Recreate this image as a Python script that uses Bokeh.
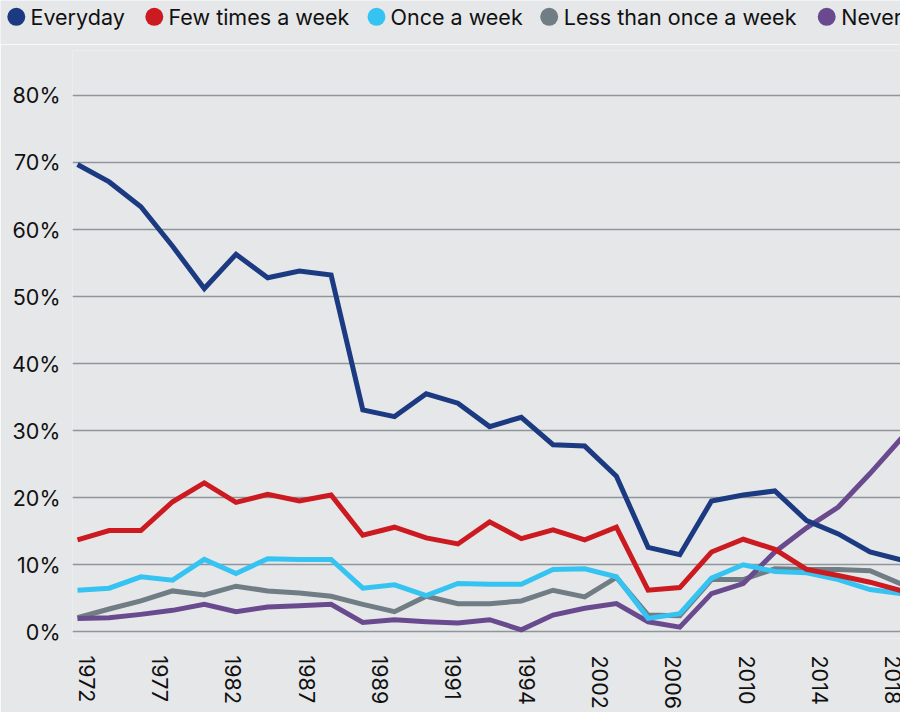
from bokeh.plotting import figure
from bokeh.models import Range1d, FixedTicker, CustomJSTickFormatter, ColumnDataSource
from bokeh.embed import file_html
from bokeh.resources import INLINE
from bokeh.core.properties import value

# ---------------- data (percent) ----------------
series_names = ["Everyday", "Few times a week", "Once a week",
                "Less than once a week", "Never"]
everyday = [69.7, 67.1, 63.4, 57.5, 51.2, 56.3, 52.8, 53.8, 53.2, 33.1, 32.1,
            35.5, 34.1, 30.6, 32.0, 27.9, 27.7, 23.2, 12.6, 11.5, 19.5, 20.4,
            21.0, 16.6, 14.6, 11.9, 10.7]
few_times = [13.7, 15.1, 15.1, 19.4, 22.2, 19.3, 20.5, 19.5, 20.4, 14.4, 15.6,
             14.0, 13.1, 16.4, 13.9, 15.2, 13.7, 15.6, 6.2, 6.6, 11.9, 13.8,
             12.3, 9.3, 8.4, 7.4, 6.1]
once_week = [6.2, 6.5, 8.2, 7.7, 10.8, 8.7, 10.9, 10.8, 10.8, 6.5, 7.0, 5.4,
             7.2, 7.1, 7.1, 9.3, 9.4, 8.2, 2.0, 2.7, 8.0, 10.0, 9.0, 8.8, 7.8,
             6.3, 5.7]
less_once = [2.1, 3.4, 4.6, 6.1, 5.5, 6.8, 6.1, 5.8, 5.3, 4.1, 3.0, 5.3, 4.2,
             4.2, 4.6, 6.2, 5.2, 8.1, 2.5, 2.4, 7.8, 7.8, 9.4, 9.3, 9.3, 9.1,
             7.1]
never = [2.0, 2.1, 2.6, 3.2, 4.1, 3.0, 3.7, 3.9, 4.1, 1.4, 1.8, 1.5, 1.3, 1.8,
         0.3, 2.5, 3.5, 4.2, 1.5, 0.7, 5.7, 7.2, 11.9, 15.5, 18.6, 23.6, 28.9]
year_labels = ["1972", "1977", "1982", "1987", "1989", "1991", "1994", "2002",
               "2006", "2010", "2014", "2018"]
y_ticks = [0, 10, 20, 30, 40, 50, 60, 70, 80]

# ---------------- styling ----------------
colors = {"Everyday": "#1b3a82", "Few times a week": "#cc1a21",
          "Once a week": "#35c4f2", "Less than once a week": "#717d85",
          "Never": "#6a4a8e"}
BG = "#e6e7e9"
GRID = "#8e959b"
TXT = "#111111"
FONT = "Inter"
FS = "21.5px"

W = 900
LEG_H = 44
MAIN_H = 712 - LEG_H

# ---------------- legend strip (own root, pixel coordinates) ----------------
leg = figure(width=W, height=LEG_H, x_range=Range1d(0, W), y_range=Range1d(LEG_H, 0),
             output_backend="svg", toolbar_location=None, min_border=0)
leg.axis.visible = False
leg.grid.visible = False
leg.outline_line_color = None
leg.background_fill_color = BG
leg.border_fill_color = BG

leg_cx = [15.8, 153.8, 376.0, 548.7, 826.2]
leg_tx = [30.0, 168.0, 390.0, 563.3, 840.7]
leg_y = 16.3
leg_src = ColumnDataSource(dict(
    cx=leg_cx, tx=leg_tx, y=[leg_y] * len(series_names), name=series_names,
    color=[colors[n] for n in series_names]))
leg.scatter("cx", "y", source=leg_src, size=18, color="color", line_color=None)
leg.text("tx", "y", text="name", source=leg_src, text_font=value(FONT),
         text_font_size=value(FS), text_baseline="middle", text_align="left",
         text_color=TXT)

# ---------------- main chart ----------------
n = len(everyday)
x = list(range(n))
px_per_pt = 31.7
x0 = -5.0 / px_per_pt
x1 = (900 - 77) / px_per_pt

p = figure(width=W, height=MAIN_H, x_range=Range1d(x0, x1), y_range=Range1d(-1.0, 86.7),
           output_backend="svg", toolbar_location=None,
           min_border_left=72, min_border_right=0, min_border_top=6, min_border_bottom=71)
p.background_fill_color = BG
p.border_fill_color = BG
p.outline_line_color = None

data = {"Everyday": everyday, "Few times a week": few_times, "Once a week": once_week,
        "Less than once a week": less_once, "Never": never}
for name in ["Less than once a week", "Never", "Once a week", "Few times a week", "Everyday"]:
    p.line(x, data[name], line_color=colors[name], line_width=5, line_join="miter")

# axes
p.xgrid.visible = False
p.ygrid.grid_line_color = GRID
p.ygrid.grid_line_width = 1.6
p.yaxis.ticker = FixedTicker(ticks=y_ticks)
p.yaxis.major_label_overrides = {t: f"{t}%" for t in y_ticks}

label_step = 73.36 / px_per_pt
label_first = 9.0 / px_per_pt
p.xaxis.ticker = FixedTicker(ticks=[label_first + k * label_step for k in range(len(year_labels))])
p.xaxis.formatter = CustomJSTickFormatter(args=dict(labels=year_labels),
                                          code="return labels[index]")
p.xaxis.major_label_orientation = "vertical"

for ax in (p.xaxis[0], p.yaxis[0]):
    ax.axis_line_color = None
    ax.major_tick_line_color = None
    ax.minor_tick_line_color = None
    ax.major_tick_out = 0
    ax.major_tick_in = 0
    ax.major_label_text_font = FONT
    ax.major_label_text_font_size = FS
    ax.major_label_text_color = TXT
p.yaxis.major_label_standoff = 12
p.xaxis.major_label_standoff = 17

open("out.html", "w").write(file_html([leg, p], INLINE))
